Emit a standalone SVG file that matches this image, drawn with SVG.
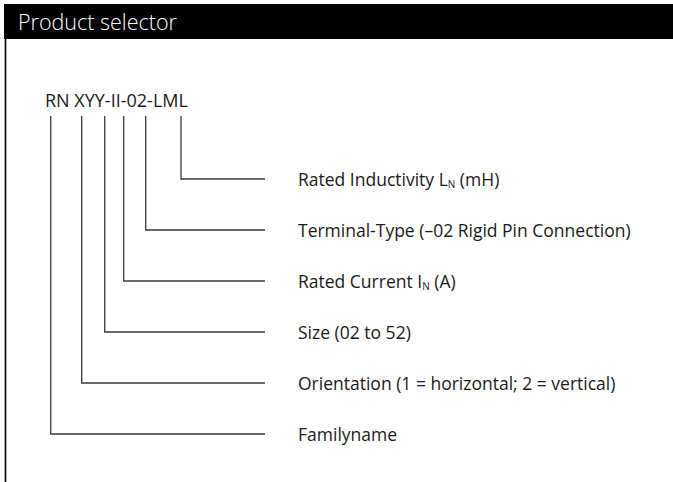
<svg xmlns="http://www.w3.org/2000/svg" width="673" height="482" viewBox="0 0 673 482">
<style>
.lbl{font-family:"Open Sans","Liberation Sans",sans-serif;font-size:17.5px;fill:#1a1a1a}
.sub{font-size:10px}
.conn{fill:none;stroke:#3a3a3a;stroke-width:1.3}
</style>
<rect x="0" y="0" width="673" height="482" fill="#ffffff"/>
<g id="frame">
<rect x="4" y="4" width="669" height="35" fill="#000000"/>
<line x1="5.5" y1="39" x2="5.5" y2="482" stroke="#000000" stroke-width="1.6"/>
<text x="18" y="30" style="font-family:'Open Sans','Liberation Sans',sans-serif;font-size:21.5px;font-weight:300;fill:#ffffff">Product selector</text>
</g>
<g id="code">
<text class="lbl" x="45" y="107" style="font-size:18px">RN XYY-II-02-LML</text>
</g>
<g id="connectors">
<polyline class="conn" points="181,116 181,179 265,179"/>
<polyline class="conn" points="145.7,116 145.7,230 265,230"/>
<polyline class="conn" points="123.7,116 123.7,281 265,281"/>
<polyline class="conn" points="104.7,116 104.7,332 265,332"/>
<polyline class="conn" points="81.7,116 81.7,383 265,383"/>
<polyline class="conn" points="50.7,116 50.7,434 265,434"/>
</g>
<g id="inductivity"><text class="lbl" x="298" y="185.5">Rated Inductivity L<tspan class="sub" dy="2">N</tspan><tspan dy="-2"> (mH)</tspan></text></g>
<g id="terminal"><text class="lbl" x="298" y="236.5">Terminal-Type (–02 Rigid Pin Connection)</text></g>
<g id="current"><text class="lbl" x="298" y="287.5">Rated Current I<tspan class="sub" dy="2">N</tspan><tspan dy="-2"> (A)</tspan></text></g>
<g id="size"><text class="lbl" x="298" y="338.5">Size (02 to 52)</text></g>
<g id="orientation"><text class="lbl" x="298" y="389.5">Orientation (1 = horizontal; 2 = vertical)</text></g>
<g id="familyname"><text class="lbl" x="298" y="440.5">Familyname</text></g>
</svg>
